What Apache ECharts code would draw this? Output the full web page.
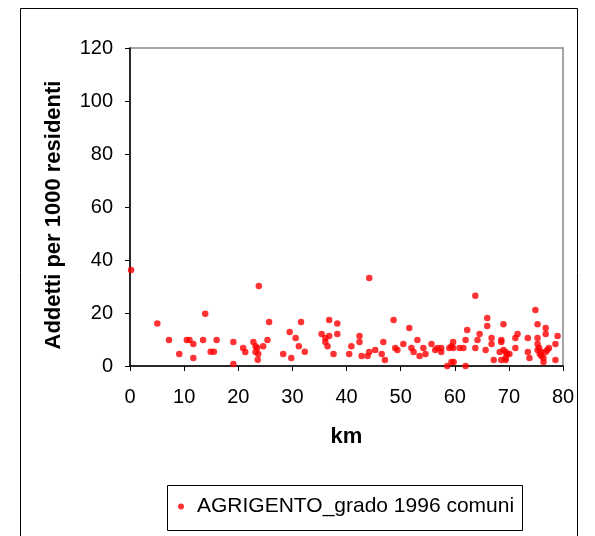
<!DOCTYPE html>
<html>
<head>
<meta charset="utf-8">
<script src="https://cdn.jsdelivr.net/npm/echarts@6/dist/echarts.min.js"></script>
<style>
html,body{margin:0;padding:0;background:#fff;}
#chart{width:595px;height:536px;}
</style>
</head>
<body>
<div id="chart"></div>
<script>
var seriesName = 'AGRIGENTO_grado 1996 comuni';
var xTicks = [0, 10, 20, 30, 40, 50, 60, 70, 80];
var yTicks = [0, 20, 40, 60, 80, 100, 120];
var km = [0.2,5.05,7.2,9.1,10.5,11.0,11.7,11.7,13.5,13.9,14.9,15.5,16.0,19.1,19.1,20.9,21.3,22.8,23.2,23.5,23.2,23.7,23.6,23.8,24.6,25.4,25.7,28.3,29.5,29.8,30.6,31.2,31.6,32.3,35.4,36.1,36.1,36.5,36.8,36.8,37.6,38.3,38.3,40.5,40.9,42.4,42.4,42.8,43.9,44.2,44.2,45.3,46.5,46.8,47.1,48.7,49.0,49.4,50.5,51.6,52.0,52.4,53.1,53.5,54.2,54.6,55.7,56.4,56.8,57.5,57.5,58.6,59.0,59.4,59.7,59.7,59.4,59.8,60.9,61.6,62.0,62.3,62.0,63.8,63.8,64.2,64.6,65.7,66.0,66.0,66.8,66.8,67.2,68.3,68.6,68.6,69.0,68.6,69.4,69.0,69.4,69.7,70.1,69.4,71.2,71.6,71.2,73.5,73.5,73.8,74.9,75.3,75.3,75.3,75.3,75.6,75.7,76.0,76.0,76.4,76.4,76.8,76.8,76.8,77.1,77.4,78.6,79.0,78.6];
var addetti = [36.2,16.0,9.8,4.5,9.8,9.8,8.3,3.0,9.8,19.7,5.4,5.4,9.8,9.1,0.8,6.8,5.3,9.1,7.5,6.8,5.3,4.5,2.4,30.2,7.5,9.8,16.6,4.5,12.8,3.0,10.6,7.5,16.6,5.4,12.1,10.6,9.1,7.5,11.3,17.4,4.5,16.0,12.1,4.5,7.5,11.3,9.1,3.8,3.8,5.3,33.2,6.0,4.5,9.1,2.3,17.4,6.8,6.0,8.3,14.3,6.8,5.3,9.8,3.8,6.8,4.5,8.3,6.0,6.8,6.8,5.3,0,6.8,7.5,9.1,6.8,1.5,1.5,6.8,6.8,9.8,13.6,0,26.5,6.8,9.8,12.1,6.0,18.1,15.1,10.6,8.3,2.3,5.3,9.8,9.1,15.8,2.3,2.3,6.0,5.3,4.5,4.5,3.0,10.6,12.1,6.8,10.6,5.3,3.0,21.1,15.8,10.6,8.3,6.0,6.8,4.5,5.3,3.8,3.0,1.5,14.3,12.1,5.3,6.0,6.8,8.3,11.3,2.3];

var points = km.map(function(x, i){ return [x, addetti[i]]; });
var font = 'Liberation Sans, Arial, sans-serif';

var chart = echarts.init(document.getElementById('chart'), null, {renderer:'canvas'});
chart.setOption({
  animation: false,
  backgroundColor: '#fff',
  graphic: [
    {type:'rect', shape:{x:20.5, y:8.5, width:557, height:540}, style:{fill:'none', stroke:'#000', lineWidth:1}, z:-1},
    {type:'rect', shape:{x:167.5, y:485.5, width:355, height:45}, style:{fill:'#fff', stroke:'#000', lineWidth:1}, z:-1}
  ],
  grid: {left:130, top:48, right:32, bottom:170, show:true, borderColor:'#888', borderWidth:1.5, backgroundColor:'transparent'},
  legend: {
    data:[seriesName], left:173, top:491, itemWidth:6, itemHeight:6,
    icon:'circle',
    textStyle:{fontFamily:font, fontSize:21, color:'#000', padding:[0,0,0,8]}
  },
  xAxis: {
    type:'value', min:0, max:80, interval:10,
    name:'km', nameLocation:'middle', nameGap:60,
    nameTextStyle:{fontFamily:font, fontSize:22, fontWeight:'bold', color:'#000'},
    axisLine:{show:true, onZero:false, lineStyle:{color:'#000', width:1.5}},
    axisTick:{show:true, inside:false, length:5, lineStyle:{color:'#000'}},
    axisLabel:{fontFamily:font, fontSize:20, color:'#000', margin:21,
      formatter:function(v){ return xTicks.indexOf(v) >= 0 ? String(v) : ''; }},
    splitLine:{show:false}
  },
  yAxis: {
    type:'value', min:0, max:120, interval:20,
    name:'Addetti per 1000 residenti', nameLocation:'middle', nameGap:65,
    nameTextStyle:{fontFamily:font, fontSize:22, fontWeight:'bold', color:'#000', padding:[0,16,0,0]},
    axisLine:{show:true, onZero:false, lineStyle:{color:'#000', width:1.5}},
    axisTick:{show:true, inside:false, length:5, lineStyle:{color:'#000'}},
    axisLabel:{fontFamily:font, fontSize:20, color:'#000', margin:17,
      formatter:function(v){ return yTicks.indexOf(v) >= 0 ? String(v) : ''; }},
    splitLine:{show:false}
  },
  series: [{
    name: seriesName,
    type:'scatter',
    data: points,
    symbol:'circle',
    symbolSize:6.5,
    itemStyle:{color:'#ff0000'},
    clip:false
  }]
});
</script>
</body>
</html>
